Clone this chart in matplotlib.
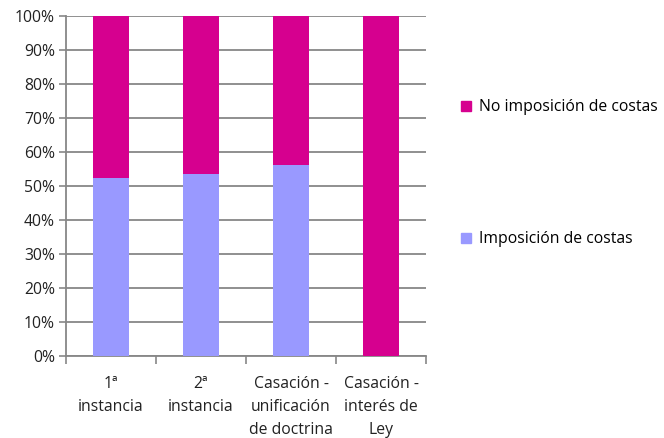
import matplotlib
matplotlib.use("Agg")
import matplotlib.pyplot as plt
from matplotlib.patches import Patch
import numpy as np

plt.rcParams['font.family'] = ['Open Sans', 'DejaVu Sans']

categorias = ["1ª\ninstancia", "2ª\ninstancia", "Casación -\nunificación\nde doctrina", "Casación -\ninterés de\nLey"]
imposicion = [52.4, 53.4, 56.2, 0.0]
no_imposicion = [100 - v for v in imposicion]

col_no = "#D6008F"
col_si = "#9999FF"
gris = "#878787"

fig = plt.figure(figsize=(6.64, 4.38), dpi=100)
ax = fig.add_axes([66/664, 82/438, 360/664, 340/438])

x = np.arange(len(categorias))
ax.bar(x, imposicion, width=0.4, color=col_si, zorder=3)
ax.bar(x, no_imposicion, width=0.4, bottom=imposicion, color=col_no, zorder=3)

ax.set_xlim(-0.5, len(categorias) - 0.5)
ax.set_ylim(0, 100)
ax.set_yticks(np.arange(0, 101, 10))
ax.set_yticklabels([f"{v}%" for v in range(0, 101, 10)], fontsize=11.3, color="#222222")
ax.yaxis.grid(True, color=gris, linewidth=1.3, zorder=0)
ax.tick_params(axis='y', length=5, color=gris, width=1.2, pad=3)

ax.set_xticks(np.arange(-0.5, len(categorias)), minor=False)
ax.set_xticklabels([])
ax.tick_params(axis='x', length=6, color=gris, width=1.2)
for i, c in enumerate(categorias):
    ax.text(i, -5.8, c, ha='center', va='top', fontsize=11.3, color="#222222",
            linespacing=1.6, transform=ax.transData)

for s in ['top', 'right']:
    ax.spines[s].set_visible(False)
for s in ['left', 'bottom']:
    ax.spines[s].set_color(gris)
    ax.spines[s].set_linewidth(1.3)

handles = [Patch(color=col_no, label="No imposición de costas"),
           Patch(color=col_si, label="Imposición de costas")]
fig.legend(handles=handles, loc='upper left', bbox_to_anchor=(455/664, 1 - 93/438),
           frameon=False, fontsize=11.3, handlelength=0.6, handleheight=0.6,
           handletextpad=0.5, labelspacing=7.4, borderaxespad=0)

fig.savefig("out.png", dpi=100)
